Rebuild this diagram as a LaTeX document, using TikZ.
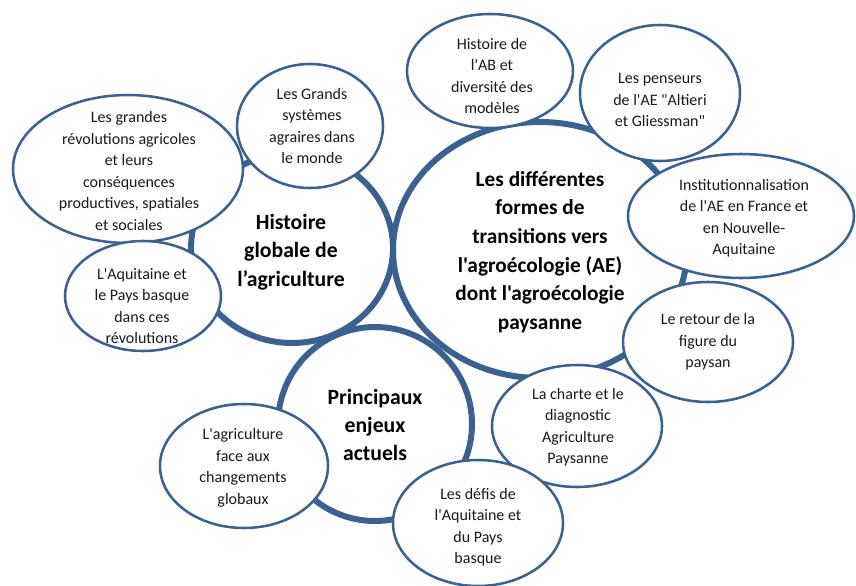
\documentclass[tikz,border=0pt]{standalone}
\usepackage{fontspec}
\setmainfont{Carlito}[Ligatures=TeXOff]
\usetikzlibrary{shapes.geometric}
\definecolor{ol}{HTML}{3B6191}
\definecolor{tx}{HTML}{1A1A1A}
\begin{document}
\begin{tikzpicture}[x=0.75pt,y=-0.75pt,
  big/.style={ellipse,draw=ol,line width=4.5pt,inner sep=0pt},
  sm/.style={ellipse,draw=ol,line width=1.9pt,fill=white,inner sep=0pt},
  st/.style={align=center,font=\fontsize{12}{16.1}\selectfont,text=tx,inner sep=0pt},
  bt/.style={align=center,font=\fontsize{16.3}{21.3}\selectfont\bfseries,text=black,inner sep=0pt}]
\useasboundingbox (0,0) rectangle (856,585);
% big circles
\node[big,minimum width=151.5pt,minimum height=142.5pt] (c1) at (292,248) {};
\node[big,minimum width=220.5pt,minimum height=192pt] (c2) at (540,250) {};
\node[big,minimum width=145.5pt,minimum height=145.5pt] (c3) at (375,424) {};
% small ellipses
\node[sm,minimum width=172.5pt,minimum height=111pt] (e1) at (128,169) {};
\node[sm,minimum width=109.5pt,minimum height=93pt] (e2) at (310,126) {};
\node[sm,minimum width=117pt,minimum height=82.5pt] (e3) at (143,296) {};
\node[sm,minimum width=124.5pt,minimum height=85.5pt] (e4) at (490,71) {};
\node[sm,minimum width=120pt,minimum height=102pt] (e5) at (660,93) {};
\node[sm,minimum width=169.5pt,minimum height=93pt] (e6) at (741,216) {};
\node[sm,minimum width=127.5pt,minimum height=90pt] (e7) at (708,342) {};
\node[sm,minimum width=127.5pt,minimum height=91.5pt] (e8) at (577,426) {};
\node[sm,minimum width=127.5pt,minimum height=94.5pt] (e9) at (478,523) {};
\node[sm,minimum width=126pt,minimum height=93pt] (e10) at (244,466) {};
% texts
\node[bt] (t1) at (291,252) {Histoire\\globale de\\l’agriculture};
\node[bt,font=\fontsize{16}{21.5}\selectfont\bfseries] (t2) at (540,252) {Les différentes\\formes de\\transitions vers\\l'agroécologie (AE)\\dont l'agroécologie\\paysanne};
\node[bt] (t3) at (375,425) {Principaux\\enjeux\\actuels};
\node[st] (s1) at (129,171) {Les grandes\\révolutions agricoles\\et leurs\\conséquences\\productives, spatiales\\et sociales};
\node[st] (s2) at (312,126) {Les Grands\\systèmes\\agraires dans\\le monde};
\node[st] (s3) at (142,306) {L'Aquitaine et\\le Pays basque\\dans ces\\révolutions};
\node[st] (s4) at (492,76) {Histoire de\\l'AB et\\diversité des\\modèles};
\node[st] (s5) at (660,100) {Les penseurs\\de l'AE "Altieri\\et Gliessman"};
\node[st] (s6) at (744,218) {Institutionnalisation\\de l'AE en France et\\en Nouvelle-\\Aquitaine};
\node[st] (s7) at (708,342) {Le retour de la\\figure du\\paysan};
\node[st] (s8) at (578,427) {La charte et le\\diagnostic\\Agriculture\\Paysanne};
\node[st] (s9) at (478,527) {Les défis de\\l'Aquitaine et\\du Pays\\basque};
\node[st] (s10) at (243,468) {L'agriculture\\face aux\\changements\\globaux};
\end{tikzpicture}
\end{document}
